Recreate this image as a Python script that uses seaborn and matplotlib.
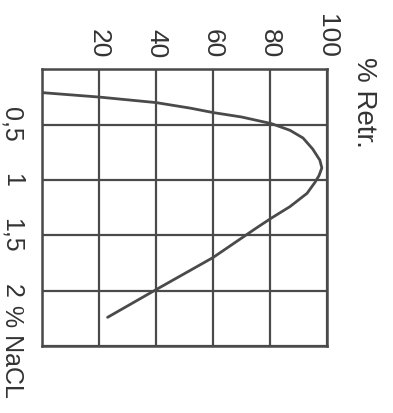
import matplotlib
matplotlib.use("Agg")
import matplotlib.pyplot as plt
import seaborn as sns

# curve (it is printed turned 90 degrees)
nacl = [0.21, 0.25, 0.30, 0.35, 0.39, 0.43, 0.49, 0.55, 0.62, 0.72, 0.82,
        0.89, 0.96, 1.02, 1.12, 1.24, 1.34, 1.43, 1.70, 1.99, 2.24]
retr = [0, 20, 40, 52, 60, 70, 80.5, 87, 91.6, 95, 97.5,
        98.2, 97.2, 95.8, 93, 87, 80.7, 75.4, 60, 40, 23]

retr_ticks = [20, 40, 60, 80, 100]
retr_labels = ["20", "40", "60", "80", "100"]
nacl_ticks = [0.5, 1.0, 1.5, 2.0]
nacl_labels = ["0,5", "1", "1,5", "2"]

ink = "#4a4a4a"

sns.set_style("white")
plt.rcParams["font.family"] = ["Liberation Sans", "DejaVu Sans"]

fig = plt.figure(figsize=(3.93, 4.13), dpi=100)
ax = fig.add_axes([0.107, 0.162, 0.725, 0.670])

sns.lineplot(x=retr, y=nacl, sort=False, estimator=None, color=ink, lw=2.0, ax=ax)

ax.set_xlim(0, 100)
ax.set_ylim(2.5, 0)
ax.set_xticks([0] + retr_ticks, [""] + retr_labels)
ax.set_yticks([0] + nacl_ticks + [2.5], [""] + nacl_labels + [""])
ax.xaxis.tick_top()
ax.grid(True, color=ink, lw=1.6)
for s in ax.spines.values():
    s.set_visible(True)
    s.set_color(ink)
    s.set_linewidth(1.8)

ax.tick_params(axis="x", length=0, pad=8, labelsize=19, labelcolor="#333333")
ax.tick_params(axis="y", length=0, pad=13, labelsize=18, labelcolor="#333333")
for lbl in ax.get_xticklabels():
    lbl.set_rotation(-90)
    lbl.set_rotation_mode("anchor")
    lbl.set_ha("right")
    lbl.set_va("center")
for lbl in ax.get_yticklabels():
    lbl.set_rotation(-90)
    lbl.set_rotation_mode("anchor")
    lbl.set_ha("center")
    lbl.set_va("top")

ax.set_xlabel("% Retr.", fontsize=20, color="#333333")
ax.xaxis.label.set(rotation=-90, rotation_mode="anchor", ha="left", va="top")
ax.xaxis.set_label_coords(1.175, 1.045)

ax.set_ylabel("% NaCL", fontsize=18, color="#333333")
ax.yaxis.label.set(rotation=-90, rotation_mode="anchor", ha="left", va="top")
ax.yaxis.set_label_coords(-0.065, 0.15)

fig.savefig("out.png", dpi=100)
